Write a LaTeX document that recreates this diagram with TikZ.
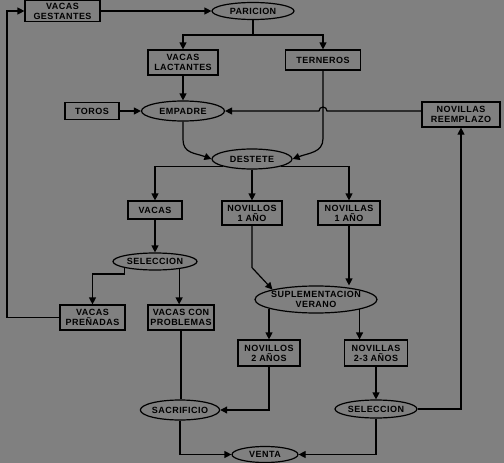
\documentclass[tikz,border=0pt]{standalone}
\usepackage{fontspec}
\setmainfont{Liberation Sans}[LetterSpace=5]
\usetikzlibrary{shapes.geometric,arrows.meta}
\definecolor{fondo}{gray}{0.5}

\begin{document}
\begin{tikzpicture}[x=1pt,y=-1pt,
        line width=1.2pt, >={Triangle[length=7pt,width=7pt]},
        every node/.style={font=\fontsize{9}{10}\selectfont\bfseries, align=center},
        caja/.style={rectangle, draw, fill=fondo, inner sep=2pt},
        elipse/.style={ellipse, draw, fill=fondo, inner sep=0pt}]
        \useasboundingbox (0,0) rectangle (504,463);
        \fill[fondo] (0,0) rectangle (504,463);

        % Nodes
        \node (gestantes) at (62.5,11) [caja, minimum width=75pt, minimum height=21pt] {VACAS\\GESTANTES};
        \node (paricion) at (253,11) [elipse, minimum width=82pt, minimum height=17pt] {PARICION};
        \node (lactantes) at (183,62.5) [caja, minimum width=70pt, minimum height=25pt] {VACAS\\LACTANTES};
        \node (terneros) at (323,60) [caja, minimum width=75pt, minimum height=20pt] {TERNEROS};
        \node (toros) at (92,111) [caja, minimum width=54pt, minimum height=17pt] {TOROS};
        \node (empadre) at (183,111) [elipse, minimum width=83pt, minimum height=20pt] {EMPADRE};
        \node (reemplazo) at (461,114.5) [caja, minimum width=78pt, minimum height=25pt] {NOVILLAS\\REEMPLAZO};
        \node (destete) at (252,159) [elipse, minimum width=80pt, minimum height=20pt] {DESTETE};
        \node (vacas) at (155,210) [caja, minimum width=54pt, minimum height=18pt] {VACAS};
        \node (novillos1) at (252,213) [caja, minimum width=60pt, minimum height=24pt] {NOVILLOS\\1 AÑO};
        \node (novillas1) at (349,213) [caja, minimum width=62pt, minimum height=24pt] {NOVILLAS\\1 AÑO};
        \node (sel1) at (155,261.5) [elipse, minimum width=84pt, minimum height=17pt] {SELECCION};
        \node (suplem) at (316,299.5) [elipse, minimum width=122pt, minimum height=27pt, inner xsep=-5pt, inner ysep=1pt] {SUPLEMENTACION\\VERANO};
        \node (prenadas) at (92.5,317.5) [caja, minimum width=65pt, minimum height=25pt] {VACAS\\PREÑADAS};
        \node (problemas) at (181,317.5) [caja, minimum width=66pt, minimum height=25pt] {VACAS CON\\PROBLEMAS};
        \node (novillos2) at (269,353) [caja, minimum width=62pt, minimum height=26pt] {NOVILLOS\\2 AÑOS};
        \node (novillas23) at (376,353) [caja, minimum width=63pt, minimum height=26pt] {NOVILLAS\\2-3 AÑOS};
        \node (sacrificio) at (180,410) [elipse, minimum width=78pt, minimum height=20pt] {SACRIFICIO};
        \node (sel2) at (376,409) [elipse, minimum width=82pt, minimum height=18pt] {SELECCION};
        \node (venta) at (265,454.5) [elipse, minimum width=66pt, minimum height=16pt] {VENTA};
        \coordinate (borde) at (7,0);
        \coordinate (rama) at (253,35);

        % Edges
        \foreach \a/\b in {gestantes/paricion, lactantes/empadre, toros/empadre, destete/novillos1, vacas/sel1, novillas23/sel2} {
            \draw[->] (\a) -- (\b);
        }
        \draw (paricion) -- (rama);
        \draw[->] (rama) -| (lactantes);
        \draw[->] (rama) -| (terneros);
        \draw[->] (reemplazo.west |- empadre) -- ([xshift=4pt]terneros.south |- empadre)
            arc[start angle=0, end angle=180, radius=4pt] -- (empadre.east);
        \draw[->] (empadre.south) -- ++(0,18) .. controls +(0,14) and +(-16,-6) .. (destete.west);
        \draw[->] (terneros.south) -- ++(0,68) .. controls +(0,14) and +(16,-6) .. (destete.east);
        \draw[->] (destete.south west) -| (vacas);
        \draw[->] (destete.south east) -| (novillas1);
        \draw[->] (novillos1.south) -- ++(0,42) -- (suplem.north west);
        \draw[->] (novillas1.south) -- (novillas1.south |- suplem.north);
        \draw[->] (sel1.south west) -- ++(0,6) -| (prenadas);
        \draw[->] ([xshift=-6pt]sel1.south east) -- ([xshift=-6pt]sel1.south east |- problemas.north);
        \draw (problemas.south) -- (problemas.south |- sacrificio.north);
        \draw[->] (suplem.south west -| novillos2) -- (novillos2);
        \draw[->] (suplem.south east) -- (suplem.south east |- novillas23.north);
        \draw[->] (novillos2) |- (sacrificio);
        \draw[->] (sacrificio) |- (venta);
        \draw[->] (sel2) |- (venta);
        \draw[->] (sel2) -| (reemplazo);
        \draw[->] (prenadas.west) -- (prenadas.west -| borde) |- (gestantes.west);

    \end{tikzpicture}
\end{document}
